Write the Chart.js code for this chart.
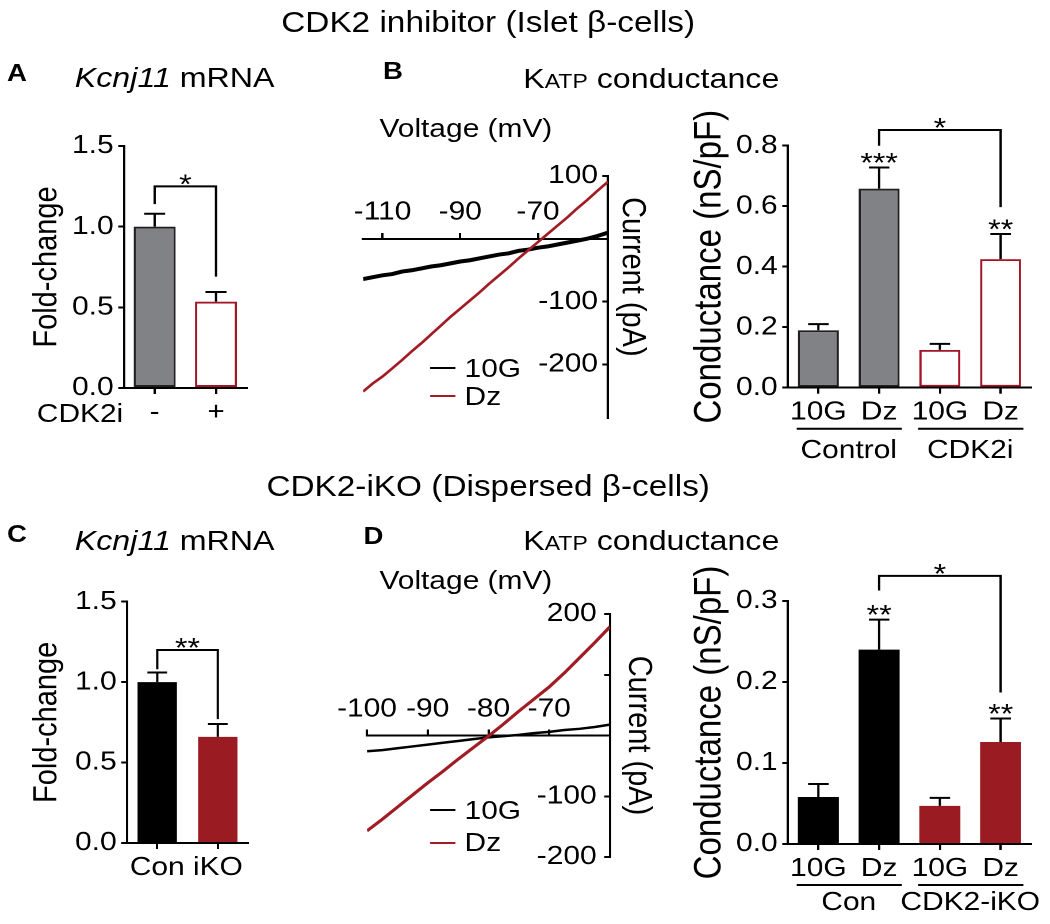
<!DOCTYPE html>
<html>
<head>
<meta charset="utf-8">
<script src="https://cdn.jsdelivr.net/npm/chart.js@4.4.1/dist/chart.umd.min.js"></script>
<style>
  html, body { margin: 0; padding: 0; background: #fff; }
  body { width: 1050px; height: 924px; overflow: hidden; position: relative; }
  /* lettering in the figure is a bit wide, so the whole sheet gets stretched sideways */
  #fig { position: absolute; left: 0; top: 0; width: 913px; height: 924px;
         transform: scaleX(1.15); transform-origin: 0 0;
         font-family: 'Liberation Sans', Arial, sans-serif; color: #000; }
  #fig canvas, #fig .t, #fig .key { position: absolute; }
  .t { white-space: nowrap; }
  .letter { font-weight: bold; font-size: 24px; line-height: 24px; }
  .head { font-size: 28px; line-height: 28px; }
  .main { font-size: 29px; line-height: 29px; left: 0; width: 849px; text-align: center; }
  .lab { font-size: 26px; line-height: 26px; }
  .key { width: 22px; height: 2px; left: 374px; }
</style>
</head>
<body>
<div id="fig">
  <div class="t main" style="top:7.5px">CDK2 inhibitor (Islet β-cells)</div>
  <div class="t main" style="top:471.5px">CDK2-iKO (Dispersed β-cells)</div>

  <div class="t letter" style="left:6px;top:61px">A</div>
  <div class="t head" style="left:65px;top:63.5px"><i>Kcnj11</i> mRNA</div>
  <div class="t letter" style="left:333px;top:59px">B</div>
  <div class="t head" style="left:455px;top:64.5px">K<span style="font-size:20px">ATP</span> conductance</div>
  <div class="t lab" style="left:330px;top:115px">Voltage (mV)</div>
  <div class="t lab" style="left:32px;top:400px">CDK2i</div>
  <div class="key" style="top:367px;background:#000"></div>
  <div class="t lab" style="left:404px;top:355px">10G</div>
  <div class="key" style="top:395px;background:#a11d25"></div>
  <div class="t lab" style="left:404px;top:383px">Dz</div>

  <div class="t letter" style="left:6px;top:522px">C</div>
  <div class="t head" style="left:65px;top:527px"><i>Kcnj11</i> mRNA</div>
  <div class="t letter" style="left:316px;top:524px">D</div>
  <div class="t head" style="left:455px;top:527px">K<span style="font-size:20px">ATP</span> conductance</div>
  <div class="t lab" style="left:330px;top:567px">Voltage (mV)</div>
  <div class="key" style="top:809px;background:#000"></div>
  <div class="t lab" style="left:404px;top:797px">10G</div>
  <div class="key" style="top:842px;background:#a11d25"></div>
  <div class="t lab" style="left:404px;top:829px">Dz</div>

  <canvas id="chartA" width="230" height="310" style="left:0;top:120px"></canvas>
  <canvas id="chartC" width="230" height="310" style="left:0;top:575px"></canvas>
  <canvas id="ivB" width="305" height="290" style="left:270px;top:150px"></canvas>
  <canvas id="ivD" width="310" height="290" style="left:270px;top:590px"></canvas>
  <canvas id="condB" width="323" height="370" style="left:590px;top:95px"></canvas>
  <canvas id="condD" width="323" height="379" style="left:590px;top:545px"></canvas>
</div>

<script>
// Kcnj11 mRNA (fold change)
const catsA = ['-', '+'];
const foldA = [1.0, 0.535];
const semA = [0.08, 0.06];
const catsC = ['Con', 'iKO'];
const foldC = [1.0, 0.66];
const semC = [0.06, 0.08];
const foldTicks = [0, 0.5, 1.0, 1.5];

// KATP conductance (nS/pF)
const catsG = ['10G', 'Dz', '10G', 'Dz'];
const groupsB = ['Control', 'CDK2i'];
const condB = [0.19, 0.658, 0.125, 0.425];
const semCondB = [0.02, 0.07, 0.02, 0.083];
const condTicksB = [0, 0.2, 0.4, 0.6, 0.8];
const groupsD = ['Con', 'CDK2-iKO'];
const condD = [0.058, 0.24, 0.047, 0.126];
const semCondD = [0.016, 0.037, 0.01, 0.029];
const condTicksD = [0, 0.1, 0.2, 0.3];

// I-V ramps, islet cells (mV / pA)
const voltB = [-115, -112.5, -110, -107.5, -105, -102.5, -100, -97.5, -95, -92.5, -90, -87.5, -85,
               -82.5, -80, -77.5, -75, -72.5, -70, -67.5, -65, -62.5, -60, -57.5, -55, -52];
const i10GB = [-64, -61, -58, -56, -52, -50, -47, -44, -42, -39, -36, -34, -31,
               -28, -25, -23, -19, -17, -14, -12, -9, -6, -3, 0, 4, 10];
const iDzB = [-243, -230, -219, -206, -193, -179, -166, -152, -138, -124, -111, -98, -85,
              -71, -58, -45, -31, -18, -5, 8, 21, 34, 48, 61, 75, 91];
const voltTicksB = [-110, -90, -70];
const currTicksB = [100, -100, -200];

// I-V ramps, dispersed cells
const voltD = [-100, -97.5, -95, -92.5, -90, -87.5, -85, -82.5, -80, -77.5, -75, -72.5, -70, -67.5, -65, -62.5, -60];
const i10GD = [-26, -24, -21, -18, -15, -12, -9, -6, -3, -1, 1, 4, 6, 9, 11, 14, 18];
const iDzD = [-157, -138, -118, -98, -78, -59, -39, -20, -1, 19, 40, 60, 80, 103, 128, 153, 179];
const voltTicksD = [-100, -90, -80, -70];
const currTicksD = [200, 100, -100, -200];
const currLabelsD = ['200', '', '-100', '-200'];

const FONT = "'Liberation Sans', Arial, sans-serif";
const GRAY = '#808285';
const RED = '#a3162a';
const RED_FILL = '#9b1b23';
const RED_LINE = '#a11d25';

Chart.defaults.font.family = FONT;
Chart.defaults.color = '#000';
Chart.defaults.animation = false;
Chart.defaults.plugins.legend.display = false;
Chart.defaults.plugins.tooltip.enabled = false;

// error bars, significance brackets, stars and group underlines
const marks = {
    id: 'marks',
    afterDatasetsDraw(chart, args, o) {
        const ctx = chart.ctx;
        const y = chart.scales.y;
        const bars = chart.getDatasetMeta(0).data;
        const vals = chart.data.datasets[0].data;
        ctx.save();
        ctx.strokeStyle = '#000';
        ctx.fillStyle = '#000';
        ctx.lineWidth = 2;
        ctx.textAlign = 'center';

        bars.forEach((bar, i) => {
            const top = y.getPixelForValue(vals[i] + o.errors[i]);
            const half = bar.width / 4;
            ctx.beginPath();
            ctx.moveTo(bar.x, bar.y);
            ctx.lineTo(bar.x, top);
            ctx.moveTo(bar.x - half, top);
            ctx.lineTo(bar.x + half, top);
            ctx.stroke();
        });

        ctx.font = '28px ' + FONT;
        ctx.textBaseline = 'alphabetic';
        (o.stars || []).forEach(s => {
            const top = y.getPixelForValue(vals[s.at] + o.errors[s.at]);
            ctx.fillText(s.text, bars[s.at].x, top + 4.5);
        });
        (o.brackets || []).forEach(b => {
            const x1 = bars[b.from].x, x2 = bars[b.to].x;
            const yt = y.getPixelForValue(b.top);
            ctx.beginPath();
            ctx.moveTo(x1, y.getPixelForValue(b.left));
            ctx.lineTo(x1, yt);
            ctx.lineTo(x2, yt);
            ctx.lineTo(x2, y.getPixelForValue(b.right));
            ctx.stroke();
            ctx.fillText(b.text, (x1 + x2) / 2, yt + 7);
        });

        ctx.font = '26px ' + FONT;
        ctx.textBaseline = 'middle';
        (o.groups || []).forEach((label, g) => {
            const a = bars[g * 2], c = bars[g * 2 + 1];
            const ly = chart.chartArea.bottom + o.lineGap;
            ctx.beginPath();
            ctx.moveTo(a.x - a.width / 2 - 1, ly);
            ctx.lineTo(c.x + c.width / 2 + 2, ly);
            ctx.stroke();
            ctx.fillText(label, (a.x + c.x) / 2, chart.chartArea.bottom + o.labelGap);
        });
        ctx.restore();
    }
};

function axisLines(tickLength) {
    return {
        grid: { drawOnChartArea: false, drawTicks: true, tickLength: tickLength, color: '#000', lineWidth: 2 },
        border: { display: true, color: '#000', width: 2 }
    };
}

function makeBarChart(id, cfg) {
    const box = cfg.box, area = cfg.area;
    return new Chart(document.getElementById(id), {
        type: 'bar',
        data: {
            labels: cfg.labels,
            datasets: [{
                data: cfg.values,
                backgroundColor: cfg.fill,
                borderColor: cfg.edge,
                borderWidth: cfg.edgeWidth,
                borderSkipped: false,
                barPercentage: cfg.barPct,
                categoryPercentage: 1
            }]
        },
        options: {
            responsive: false,
            devicePixelRatio: 2,
            layout: { padding: { left: 0, top: area.top - box.y, right: box.x + box.w - area.right, bottom: 0 } },
            scales: {
                x: {
                    ...axisLines(6),
                    grid: { ...axisLines(6).grid, offset: false },
                    ticks: { font: { size: 26 }, padding: 3, maxRotation: 0, autoSkip: false },
                    afterFit: s => { s.height = box.y + box.h - area.bottom; }
                },
                y: {
                    ...axisLines(5),
                    min: 0,
                    max: cfg.yTicks[cfg.yTicks.length - 1],
                    afterBuildTicks: s => { s.ticks = cfg.yTicks.map(v => ({ value: v })); },
                    ticks: { font: { size: 26 }, padding: 4, callback: v => v.toFixed(1) },
                    title: { display: true, text: cfg.yTitle, font: { size: cfg.titleSize }, padding: { top: cfg.titlePad, bottom: 0 } },
                    afterFit: s => { s.width = area.left - box.x; }
                }
            },
            plugins: {
                marks: { errors: cfg.errors, stars: cfg.stars, brackets: cfg.brackets, groups: cfg.groups, lineGap: 41, labelGap: cfg.labelGap }
            }
        },
        plugins: [marks]
    });
}

function makeIVChart(id, cfg) {
    const box = cfg.box, area = cfg.area;
    const pts = ys => cfg.volt.map((v, i) => ({ x: v, y: ys[i] }));
    return new Chart(document.getElementById(id), {
        type: 'line',
        data: {
            datasets: [
                { label: 'Dz', data: pts(cfg.dz), borderColor: RED_LINE, borderWidth: cfg.wDz },
                { label: '10G', data: pts(cfg.g10), borderColor: '#000', borderWidth: cfg.w10G }
            ]
        },
        options: {
            responsive: false,
            devicePixelRatio: 2,
            elements: { point: { radius: 0 }, line: { tension: 0 } },
            layout: { padding: { left: area.left - box.x, top: area.top - box.y, right: 0, bottom: box.y + box.h - area.bottom } },
            scales: {
                x: {
                    type: 'linear',
                    position: { y: 0 },
                    min: cfg.xMin,
                    max: cfg.xMax,
                    ...axisLines(-7),
                    afterBuildTicks: s => { s.ticks = cfg.xTicks.map(v => ({ value: v })); },
                    ticks: { font: { size: 26 }, padding: -35, maxRotation: 0, autoSkip: false, callback: v => String(v) }
                },
                y: {
                    type: 'linear',
                    position: 'right',
                    min: cfg.yMin,
                    max: cfg.yMax,
                    ...axisLines(-5),
                    afterBuildTicks: s => { s.ticks = cfg.yTicks.map(v => ({ value: v })); },
                    // mirrored labels sit left of the axis line
                    ticks: { mirror: true, padding: cfg.labelPad, font: { size: 26 }, callback: (v, i) => cfg.yLabels[i] },
                    // trailing spaces nudge the title up when the axis runs long below zero
                    title: { display: true, text: 'Current (pA)' + cfg.titleTail, font: { size: 29 }, padding: { top: cfg.titlePad, bottom: 0 } },
                    afterFit: s => { s.width = box.x + box.w - area.right; }
                }
            }
        }
    });
}

makeBarChart('chartA', {
    box: { x: 0, y: 120, w: 230, h: 310 },
    area: { left: 107.8, right: 214.5, top: 146, bottom: 388 },
    labels: catsA, values: foldA, errors: semA, yTicks: foldTicks,
    fill: [GRAY, '#fff'], edge: ['#231f20', RED], edgeWidth: 2, barPct: 0.685,
    yTitle: 'Fold-change', titleSize: 29, titlePad: 23.5,
    brackets: [{ from: 0, to: 1, top: 1.25, left: 1.14, right: 0.69, text: '*' }]
});

makeBarChart('chartC', {
    box: { x: 0, y: 575, w: 230, h: 310 },
    area: { left: 110.4, right: 215.7, top: 601.7, bottom: 843 },
    labels: catsC, values: foldC, errors: semC, yTicks: foldTicks,
    fill: ['#000', RED_FILL], edge: ['#000', RED_FILL], edgeWidth: 0, barPct: 0.65,
    yTitle: 'Fold-change', titleSize: 29, titlePad: 23.5,
    brackets: [{ from: 0, to: 1, top: 1.2, left: 1.08, right: 0.77, text: '**' }]
});

makeBarChart('condB', {
    box: { x: 590, y: 95, w: 323, h: 370 },
    area: { left: 685.2, right: 896.5, top: 145.7, bottom: 387.7 },
    labels: catsG, values: condB, errors: semCondB, yTicks: condTicksB,
    fill: [GRAY, GRAY, '#fff', '#fff'], edge: ['#231f20', '#231f20', RED, RED], edgeWidth: 2, barPct: 0.675,
    yTitle: 'Conductance (nS/pF)', titleSize: 33, titlePad: 7.6,
    stars: [{ at: 1, text: '***' }, { at: 3, text: '**' }],
    brackets: [{ from: 1, to: 3, top: 0.852, left: 0.80, right: 0.597, text: '*' }],
    groups: groupsB, labelGap: 63
});

makeBarChart('condD', {
    box: { x: 590, y: 545, w: 323, h: 379 },
    area: { left: 685.2, right: 896.5, top: 601, bottom: 844 },
    labels: catsG, values: condD, errors: semCondD, yTicks: condTicksD,
    fill: ['#000', '#000', RED_FILL, RED_FILL], edge: ['#000', '#000', RED_FILL, RED_FILL], edgeWidth: 0, barPct: 0.675,
    yTitle: 'Conductance (nS/pF)', titleSize: 33, titlePad: 7.6,
    stars: [{ at: 1, text: '**' }, { at: 3, text: '**' }],
    brackets: [{ from: 1, to: 3, top: 0.331, left: 0.313, right: 0.187, text: '*' }],
    groups: groupsD, labelGap: 59
});

makeIVChart('ivB', {
    box: { x: 270, y: 150, w: 305, h: 290 },
    area: { left: 315.7, right: 528.7, top: 176, bottom: 418 },
    volt: voltB, g10: i10GB, dz: iDzB, w10G: 4, wDz: 2.5,
    xMin: -115, xMax: -52, xTicks: voltTicksB,
    yMin: -285, yMax: 100, yTicks: currTicksB, yLabels: currTicksB.map(String),
    labelPad: -8.7, titlePad: 8.3, titleTail: '     '
});

makeIVChart('ivD', {
    box: { x: 270, y: 590, w: 310, h: 290 },
    area: { left: 319.1, right: 530.4, top: 614, bottom: 857 },
    volt: voltD, g10: i10GD, dz: iDzD, w10G: 2.5, wDz: 3,
    xMin: -100, xMax: -60, xTicks: voltTicksD,
    yMin: -200, yMax: 200, yTicks: currTicksD, yLabels: currLabelsD,
    labelPad: -11.6, titlePad: 7.6, titleTail: ''
});
</script>
</body>
</html>
